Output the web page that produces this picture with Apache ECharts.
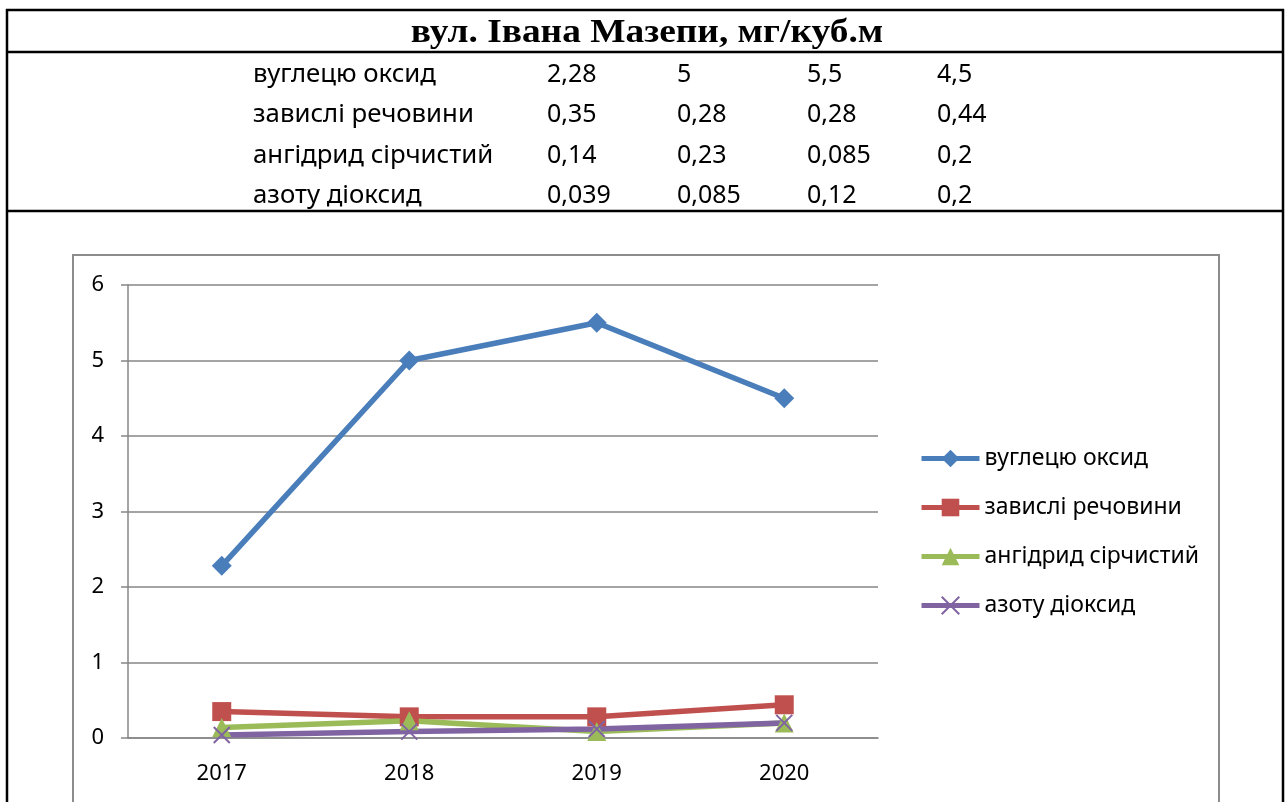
<!DOCTYPE html>
<html>
<head>
<meta charset="utf-8">
<script src="https://cdn.jsdelivr.net/npm/echarts@6/dist/echarts.min.js"></script>
<style>
  html, body { margin: 0; padding: 0; background: #fff; }
  #chart { width: 1286px; height: 802px; }
</style>
</head>
<body>
<div id="chart"></div>
<script>
const title = 'вул. Івана Мазепи, мг/куб.м';
const years = ['2017', '2018', '2019', '2020'];
const seriesNames = ['вуглецю оксид', 'завислі речовини', 'ангідрид сірчистий', 'азоту діоксид'];
const carbonMonoxide = [2.28, 5, 5.5, 4.5];
const suspendedMatter = [0.35, 0.28, 0.28, 0.44];
const sulfurDioxide = [0.14, 0.23, 0.085, 0.2];
const nitrogenDioxide = [0.039, 0.085, 0.12, 0.2];
const yTicks = [0, 1, 2, 3, 4, 5, 6];

const allValues = [carbonMonoxide, suspendedMatter, sulfurDioxide, nitrogenDioxide];
const colors = ['#4a7ebb', '#c0504d', '#9bbb59', '#8064a2'];
const symbols = ['diamond', 'rect', 'triangle', 'path://M0,0L10,10M10,0L0,10'];
const symbolSizes = [20, 19, 19, 16];

const fmt = v => String(v).replace('.', ',');
const font = '"Noto Sans", "Open Sans", sans-serif';

// table above the chart, drawn as graphic texts
const tableText = [];
seriesNames.forEach((name, i) => {
  const y = 75 + i * 40.3;
  tableText.push({
    type: 'text', x: 253, y: y, scaleX: 1.03,
    style: { text: name, font: '25px ' + font, fill: '#000', verticalAlign: 'middle' }
  });
  allValues[i].forEach((v, j) => {
    tableText.push({
      type: 'text', x: 547 + j * 130, y: y,
      style: { text: fmt(v), font: '25px ' + font, fill: '#000', verticalAlign: 'middle' }
    });
  });
});

const hline = (y) => ({ type: 'line', shape: { x1: 6, y1: y, x2: 1284, y2: y }, style: { stroke: '#000', lineWidth: 2.5 } });
const vline = (x) => ({ type: 'line', shape: { x1: x, y1: 9, x2: x, y2: 802 }, style: { stroke: '#000', lineWidth: 2.5 } });

const chart = echarts.init(document.getElementById('chart'));
chart.setOption({
  animation: false,
  backgroundColor: '#fff',
  graphic: [
    hline(10), hline(52), hline(211), vline(7), vline(1283),
    {
      type: 'text', x: 647, y: 33, scaleX: 1.1,
      style: { text: title, font: 'bold 34px "Liberation Serif", serif', fill: '#000', align: 'center', verticalAlign: 'middle' }
    },
    ...tableText,
    {
      type: 'rect', shape: { x: 73, y: 255, width: 1146, height: 600 },
      style: { fill: 'none', stroke: '#8c8c8c', lineWidth: 2 }
    }
  ],
  grid: { left: 128, right: 408, top: 285, bottom: 64 },
  legend: {
    orient: 'vertical',
    left: 914,
    top: 442,
    itemWidth: 58,
    itemHeight: 22,
    itemGap: 26,
    lineStyle: { width: 5 },
    textStyle: { fontSize: 23, fontFamily: font, color: '#000' },
    data: seriesNames
  },
  xAxis: {
    type: 'category',
    data: years,
    boundaryGap: true,
    axisLine: { lineStyle: { color: '#868686', width: 1.5 } },
    axisTick: { length: 8, lineStyle: { color: '#868686', width: 1.5 } },
    axisLabel: { fontSize: 22, fontFamily: font, color: '#000', margin: 25 }
  },
  yAxis: {
    type: 'value',
    min: yTicks[0],
    max: yTicks[yTicks.length - 1],
    interval: 1,
    axisLine: { show: true, lineStyle: { color: '#868686', width: 1.5 } },
    axisTick: { show: true, length: 7, lineStyle: { color: '#868686', width: 1.5 } },
    axisLabel: { fontSize: 22, fontFamily: font, color: '#000', margin: 24 },
    splitLine: { lineStyle: { color: '#868686', width: 1.5 } }
  },
  series: seriesNames.map((name, i) => ({
    name: name,
    type: 'line',
    data: allValues[i],
    symbol: symbols[i],
    symbolSize: symbolSizes[i],
    color: colors[i],
    lineStyle: { width: 5.5, color: colors[i] },
    itemStyle: i === 3
      ? { color: colors[i], borderColor: colors[i], borderWidth: 2 }
      : { color: colors[i], borderWidth: 0 }
  }))
});
</script>
</body>
</html>
